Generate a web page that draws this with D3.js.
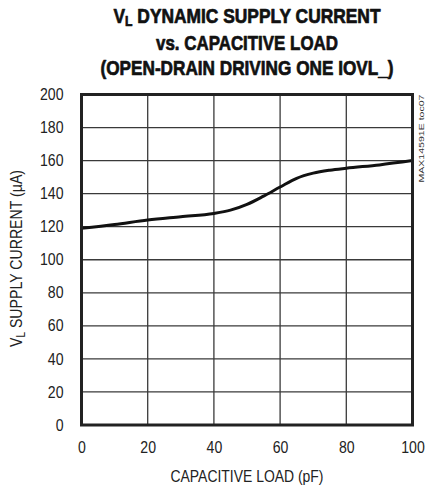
<!DOCTYPE html>
<html><head><meta charset="utf-8">
<script src="https://cdn.jsdelivr.net/npm/d3@7"></script>
<style>
html,body{margin:0;padding:0;background:#fff;}
svg{display:block;}
text{font-family:"Liberation Sans",Arial,sans-serif;}
</style></head><body>
<svg id="c" width="425" height="488"></svg>
<script>
const loadPF = [0,10,20,30,40,45,50,55,60,65,70,75,80,90,100];
const currentUA = [119,121.3,124,126,128,130,133.5,138.5,144,149.3,152.4,154.2,155.4,157.4,160];
const xTicks = [0,20,40,60,80,100];
const yTicks = [0,20,40,60,80,100,120,140,160,180,200];

const svg = d3.select("#c");
const L=81.5,R=412.5,T=94.5,B=425;
const x = d3.scaleLinear().domain([0,100]).range([L,R]);
const y = d3.scaleLinear().domain([0,200]).range([B,T]);

function squeeze(sel, f){
  sel.each(function(){
    const w=this.getComputedTextLength();
    d3.select(this).attr("textLength",w*f).attr("lengthAdjust","spacingAndGlyphs");
  });
}
function fit(sel, w){
  sel.attr("textLength",w).attr("lengthAdjust","spacingAndGlyphs");
}

// grid
const g = svg.append("g");
g.selectAll(".vx").data(xTicks.slice(1,-1)).join("line")
  .attr("x1",d=>x(d)).attr("x2",d=>x(d)).attr("y1",T).attr("y2",B)
  .attr("stroke","#3a3a3a").attr("stroke-width",1.3);
g.selectAll(".hy").data(yTicks.slice(1,-1)).join("line")
  .attr("y1",d=>y(d)).attr("y2",d=>y(d)).attr("x1",L).attr("x2",R)
  .attr("stroke","#3a3a3a").attr("stroke-width",1.3);

// axes labels via d3 axes
const xAxis = svg.append("g").attr("transform",`translate(0,${B})`)
  .call(d3.axisBottom(x).tickValues(xTicks).tickSize(0).tickPadding(17));
const yAxis = svg.append("g").attr("transform",`translate(${L},0)`)
  .call(d3.axisLeft(y).tickValues(yTicks).tickSize(0).tickPadding(18));
[xAxis,yAxis].forEach(a=>{
  a.select(".domain").remove();
  a.selectAll("text").attr("font-family",'"Liberation Sans",Arial,sans-serif')
   .attr("font-size",16).attr("fill","#222");
  squeeze(a.selectAll("text"),0.88);
});

// curve
svg.append("path").datum(loadPF.map((d,i)=>[d,currentUA[i]]))
  .attr("fill","none").attr("stroke","#111").attr("stroke-width",3)
  .attr("stroke-linejoin","round")
  .attr("d",d3.line().x(d=>x(d[0])).y(d=>y(d[1])).curve(d3.curveMonotoneX));

// frame
svg.append("rect").attr("x",L).attr("y",T).attr("width",R-L).attr("height",B-T)
  .attr("fill","none").attr("stroke","#222").attr("stroke-width",3);

// title
const cx=(L+R)/2;
function titleLine(yy){
  return svg.append("text").attr("x",cx).attr("y",yy).attr("text-anchor","middle")
    .attr("font-size",20).attr("font-weight","bold").attr("fill","#111")
    .attr("stroke","#111").attr("stroke-width",0.7).attr("stroke-linejoin","round");
}
const t1 = titleLine(22.7);
t1.append("tspan").text("V");
t1.append("tspan").attr("font-size",14).attr("dy",3).text("L");
t1.append("tspan").attr("dy",-3).text(" DYNAMIC SUPPLY CURRENT");
fit(t1,267);
const t2=titleLine(50).text("vs. CAPACITIVE LOAD");
fit(t2,182);
const t3=titleLine(75).text("(OPEN-DRAIN DRIVING ONE IOVL_)");
fit(t3,293);

// x title
const xt=svg.append("text").attr("x",cx).attr("y",482).attr("text-anchor","middle")
  .attr("font-size",17).attr("fill","#222").text("CAPACITIVE LOAD (pF)");
fit(xt,153);
// y title
const yt = svg.append("text").attr("transform",`translate(22,258.5) rotate(-90)`)
  .attr("text-anchor","middle").attr("font-size",17).attr("fill","#222");
yt.append("tspan").text("V");
yt.append("tspan").attr("font-size",12).attr("dy",3).text("L");
yt.append("tspan").attr("dy",-3).text(" SUPPLY CURRENT (\u00b5A)");
fit(yt,177);

// side label
const sl=svg.append("text").attr("transform",`translate(424,${T}) rotate(-90)`)
  .attr("text-anchor","end").attr("font-size",8).attr("fill","#333").text("MAX14591E toc07");
fit(sl,88);
</script></body></html>
